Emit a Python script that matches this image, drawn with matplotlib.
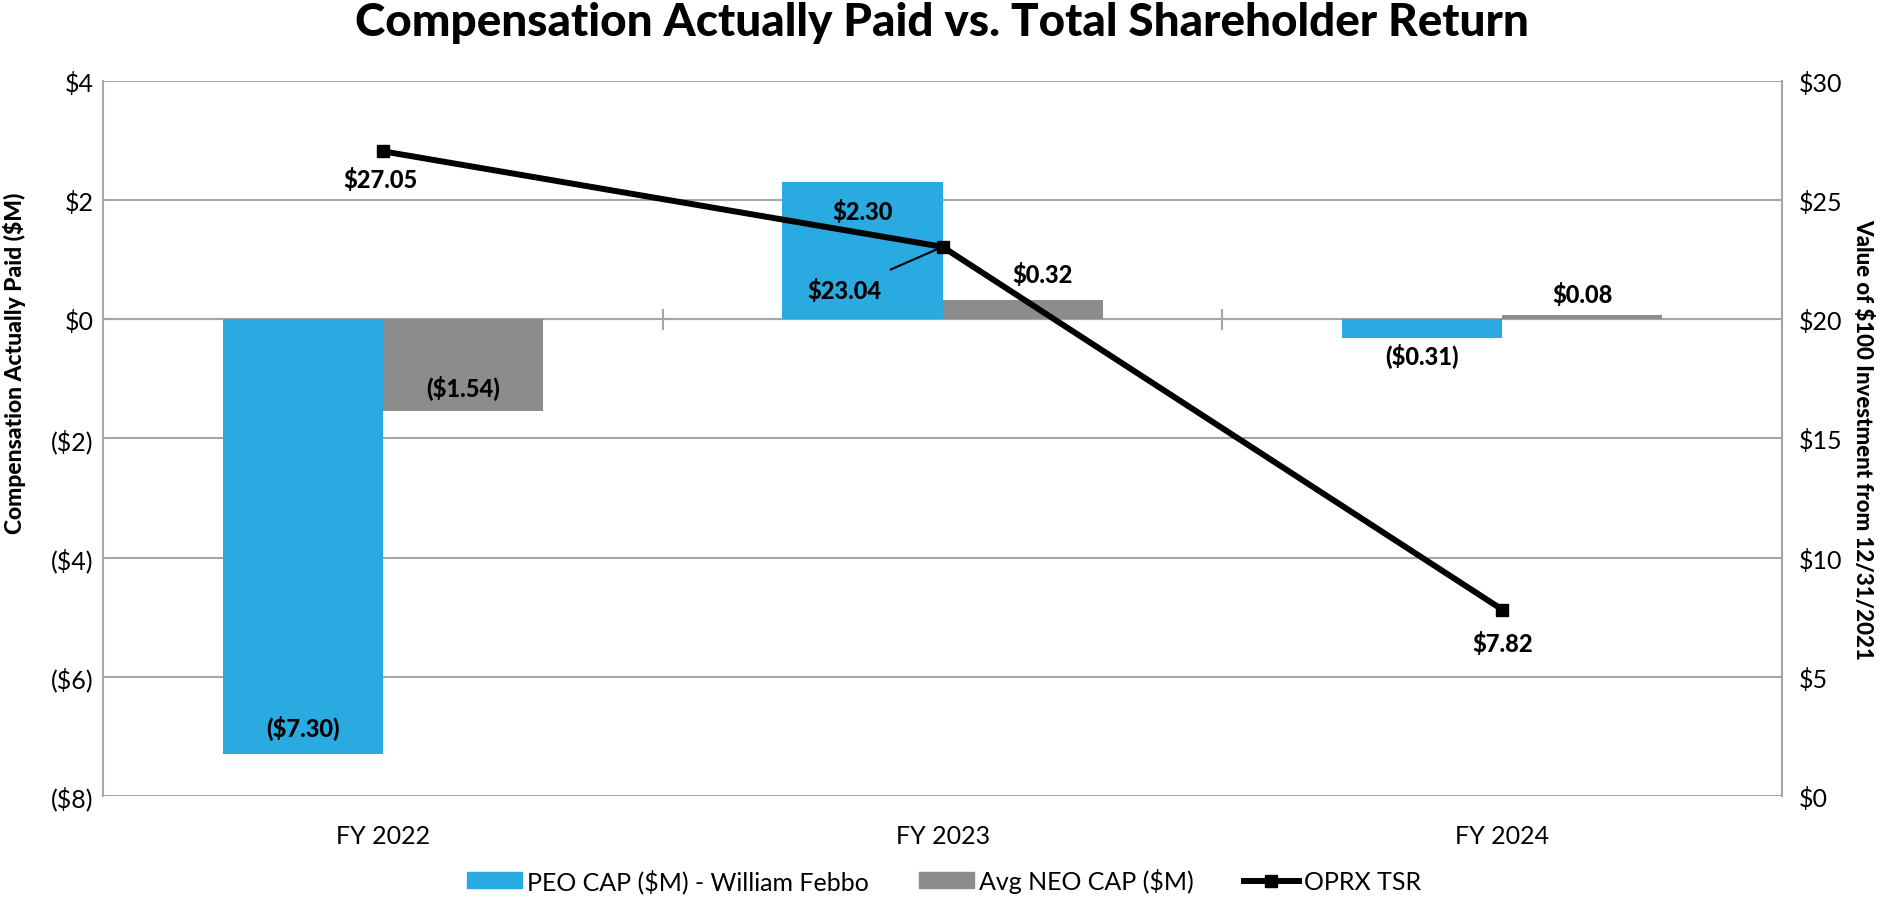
import numpy as np
import matplotlib
matplotlib.use("Agg")
import matplotlib.pyplot as plt
from matplotlib.lines import Line2D
from matplotlib.patches import Patch

plt.rcParams['font.family'] = ['Lato', 'DejaVu Sans']

# data
years = ['FY 2022', 'FY 2023', 'FY 2024']
peo_cap = [-7.30, 2.30, -0.31]
neo_cap = [-1.54, 0.32, 0.08]
tsr = [27.05, 23.04, 7.82]

blue = '#29ABE2'
grey = '#8C8C8C'
grid_c = '#A6A6A6'


def money(v):
    if v < 0:
        return f"(${abs(v):.2f})"
    return f"${v:.2f}"


def tick_money(v, pos=None):
    if v < 0:
        return f"(${abs(v):.0f})"
    return f"${v:.0f}"


fig = plt.figure(figsize=(18.84, 9.04), dpi=100)
ax = fig.add_axes([0.0547, 0.1184, 0.8912, 0.7909])

x = np.arange(len(years))
w = 0.286
ax.bar(x - w / 2, peo_cap, w, color=blue, zorder=2)
ax.bar(x + w / 2, neo_cap, w, color=grey, zorder=2)

ax.set_xlim(-0.5, len(years) - 0.5)
ax.set_ylim(-8, 4)
ax.set_yticks(np.arange(-8, 5, 2))
ax.yaxis.set_major_formatter(plt.FuncFormatter(tick_money))
ax.grid(axis='y', color=grid_c, lw=1.5, zorder=0)
ax.set_xticks(x)
ax.set_xticklabels(years)
ax.tick_params(axis='both', length=0, labelsize=18, pad=7)
ax.tick_params(axis='x', pad=20)
for s in ['top', 'bottom']:
    ax.spines[s].set_visible(False)
for s in ['left', 'right']:
    ax.spines[s].set_color(grid_c)
    ax.spines[s].set_linewidth(1.5)

# zero line with category separators
ax.axhline(0, color=grid_c, lw=1.5, zorder=1)
ax.vlines(x[:-1] + 0.5, -0.18, 0.18, color=grid_c, lw=1.5, zorder=1)

ax.set_ylabel('Compensation Actually Paid ($M)', fontsize=16.5, fontweight='black')
ax.yaxis.set_label_coords(-0.046, 0.607)

# bar labels
lab_kw = dict(ha='center', va='center', fontsize=17, fontweight='black', textcoords='offset points')
peo_off = [(0, 19), (0, -21), (0, -13)]
neo_off = [(0, 17), (14, 19), (0, 15)]
for i in range(len(years)):
    ax.annotate(money(peo_cap[i]), (x[i] - w / 2, peo_cap[i]), xytext=peo_off[i], **lab_kw)
    ax.annotate(money(neo_cap[i]), (x[i] + w / 2, neo_cap[i]), xytext=neo_off[i], **lab_kw)

# TSR on secondary axis
ax2 = ax.twinx()
ax2.plot(x, tsr, color='black', lw=4.3, marker='s', markersize=8.5, zorder=5)
ax2.set_ylim(0, 30)
ax2.set_yticks(np.arange(0, 31, 5))
ax2.yaxis.set_major_formatter(plt.FuncFormatter(tick_money))
ax2.tick_params(axis='y', length=0, labelsize=18, pad=12)
for s in ax2.spines.values():
    s.set_visible(False)
ax2.set_ylabel('Value of $100 Investment from 12/31/2021', fontsize=16, fontweight='black',
               rotation=270, labelpad=22)

tsr_off = [(-2, -20), (-71, -31), (0, -24)]
for i in range(len(years)):
    if i == 1:
        ax2.annotate(money(tsr[i]), (x[i], tsr[i]), xytext=tsr_off[i], ha='center', va='center',
                     fontsize=17, fontweight='black', textcoords='offset points',
                     arrowprops=dict(arrowstyle='-', color='black', lw=1.5, shrinkA=10, shrinkB=0))
    else:
        ax2.annotate(money(tsr[i]), (x[i], tsr[i]), xytext=tsr_off[i], ha='center', va='center',
                     fontsize=17, fontweight='black', textcoords='offset points')

fig.text(0.5, 0.975, 'Compensation Actually Paid vs. Total Shareholder Return', fontsize=33,
         fontweight='black', ha='center', va='center')

handles = [Patch(color=blue), Patch(color=grey),
           Line2D([], [], color='black', lw=4.3, marker='s', markersize=8.5)]
labels = ['PEO CAP ($M) - William Febbo', 'Avg NEO CAP ($M)', 'OPRX TSR']
fig.legend(handles, labels, loc='center', bbox_to_anchor=(0.501, 0.025), ncol=3, frameon=False,
           fontsize=18, handlelength=2.2, handleheight=0.6, handletextpad=0.2, columnspacing=2.0)

fig.savefig('out.png', dpi=100)
